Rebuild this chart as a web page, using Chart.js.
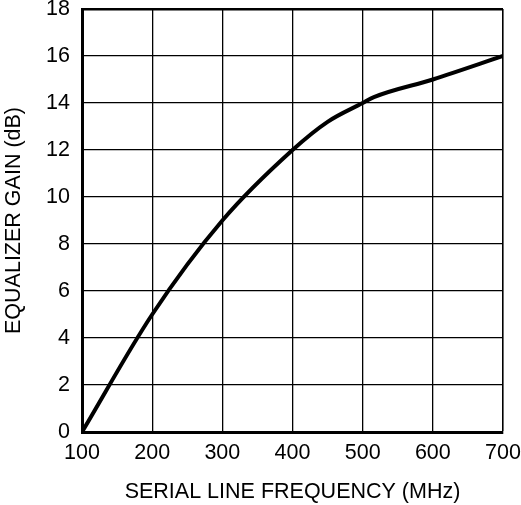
<!DOCTYPE html>
<html>
<head>
<meta charset="utf-8">
<script src="https://cdn.jsdelivr.net/npm/chart.js@4/dist/chart.umd.min.js"></script>
<style>
  html, body { margin: 0; padding: 0; background: #fff; }
  #wrap { width: 521px; height: 505px; }
</style>
</head>
<body>
<div id="wrap"><canvas id="gainChart"></canvas></div>
<script>
// serial line frequency (MHz) vs equalizer gain (dB)
const freqMHz = [100, 200, 300, 400, 450, 500, 516, 600, 700];
const gainDb  = [0,   5,   9,   12,  13.2, 14, 14.25, 15, 16];

const xTicks = [100, 200, 300, 400, 500, 600, 700];
const yTicks = [0, 2, 4, 6, 8, 10, 12, 14, 16, 18];

const xTitle = 'SERIAL LINE FREQUENCY (MHz)';
const yTitle = 'EQUALIZER GAIN (dB)';

const font = { family: '"Liberation Sans", Arial, sans-serif', size: 21.5 };

const ctx = document.getElementById('gainChart').getContext('2d');
new Chart(ctx, {
    type: 'line',
    data: {
        datasets: [{
            data: freqMHz.map((f, i) => ({ x: f, y: gainDb[i] })),
            borderColor: '#000',
            borderWidth: 4,
            pointRadius: 0,
            fill: false,
            cubicInterpolationMode: 'monotone'
        }]
    },
    options: {
        responsive: true,
        maintainAspectRatio: false,
        animation: false,
        layout: { padding: { left: 0, right: 18, top: 9, bottom: 0 } },
        plugins: {
            legend: { display: false },
            tooltip: { enabled: false }
        },
        scales: {
            x: {
                type: 'linear',
                min: xTicks[0],
                max: xTicks[xTicks.length - 1],
                afterBuildTicks: (scale) => { scale.ticks = xTicks.map(v => ({ value: v })); },
                afterFit: (scale) => {
                    scale.height = 73;
                    scale.paddingLeft = 0;
                    scale.paddingRight = 0;
                },
                ticks: { color: '#000', font: font, padding: 8, maxRotation: 0 },
                grid: {
                    color: '#000',
                    lineWidth: (c) => c.tick && c.tick.value === 700 ? 1.6 : 1.3,
                    drawTicks: false
                },
                border: { color: '#000', width: 3 },
                title: { display: true, text: xTitle, color: '#000', font: font, padding: { top: 0, bottom: 0 } }
            },
            y: {
                min: yTicks[0],
                max: yTicks[yTicks.length - 1],
                afterBuildTicks: (scale) => { scale.ticks = yTicks.map(v => ({ value: v })); },
                afterFit: (scale) => {
                    scale.width = 82;
                    scale.paddingTop = 0;
                    scale.paddingBottom = 0;
                },
                ticks: { color: '#000', font: font, padding: 12 },
                grid: {
                    color: '#000',
                    lineWidth: (c) => c.tick && c.tick.value === 18 ? 2.5 : 1.3,
                    drawTicks: false
                },
                border: { color: '#000', width: 3 },
                title: { display: true, text: yTitle, color: '#000', font: font, padding: { top: 1, bottom: 0 } }
            }
        }
    }
});
</script>
</body>
</html>
